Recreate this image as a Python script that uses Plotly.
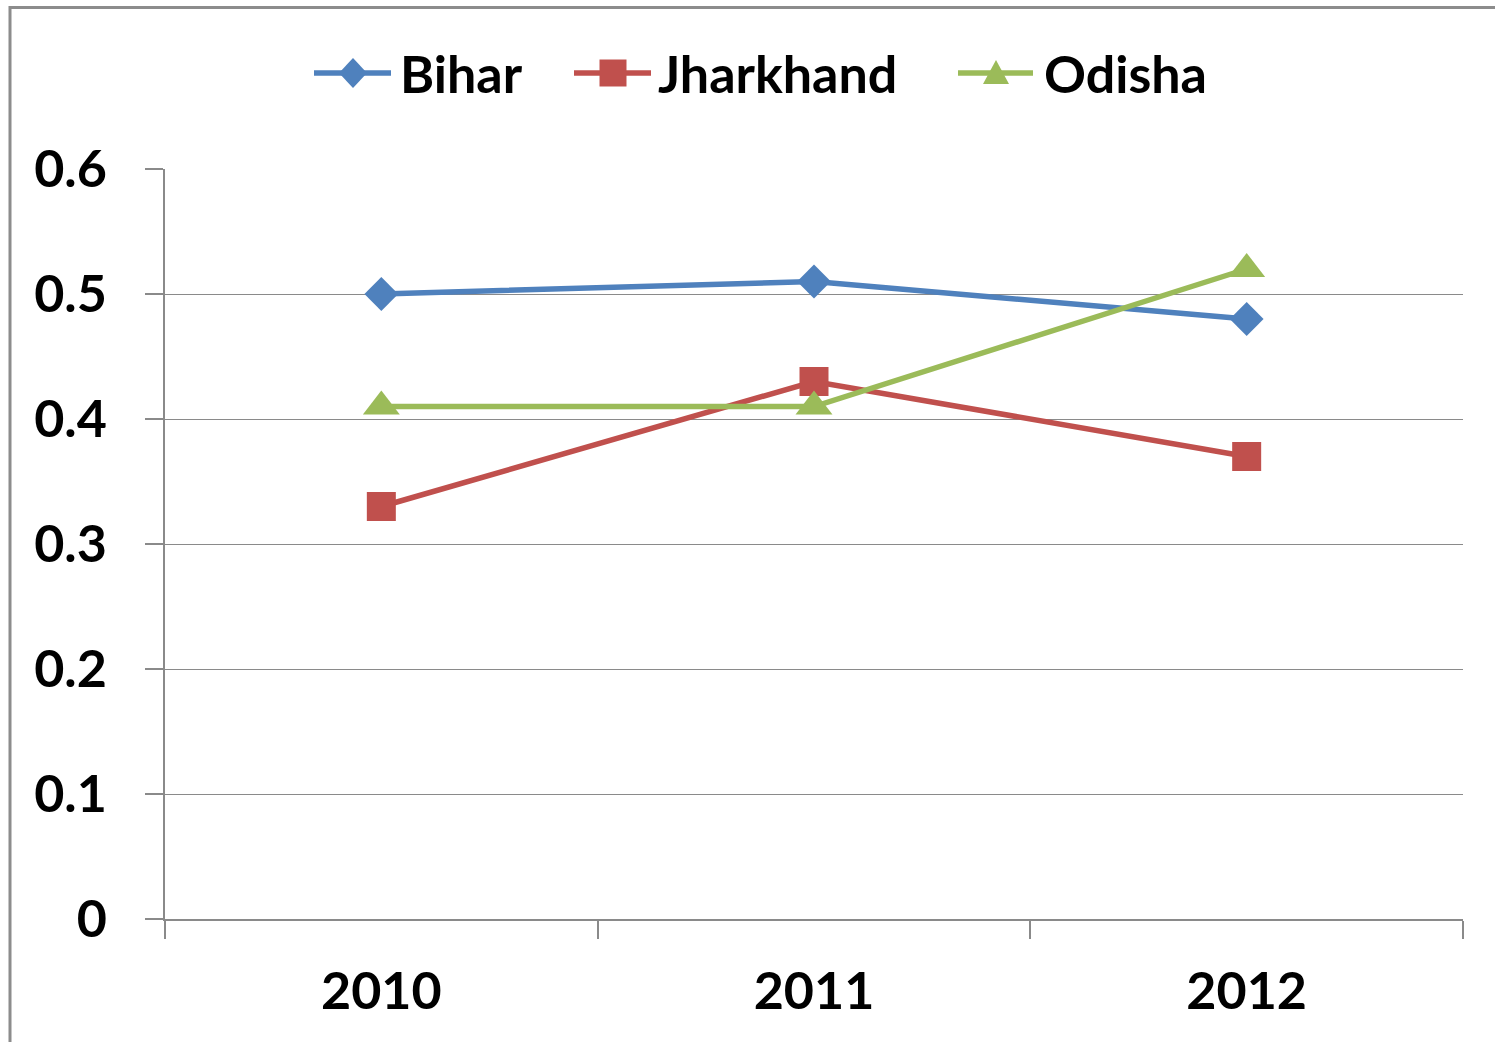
import plotly.graph_objects as go

years = ["2010", "2011", "2012"]
bihar = [0.50, 0.51, 0.48]
jharkhand = [0.33, 0.43, 0.37]
odisha = [0.41, 0.41, 0.52]
y_ticks = [0, 0.1, 0.2, 0.3, 0.4, 0.5, 0.6]
y_tick_labels = ["0", "0.1", "0.2", "0.3", "0.4", "0.5", "0.6"]
series_names = ["Bihar", "Jharkhand", "Odisha"]
series_colors = ["#4F81BD", "#C0504D", "#9BBB59"]

FONT = "Lato"
FS = 52
GRID = "#8a8a8a"

W, H = 1495, 1042
L, R, T, B = 165, 32, 169, 123
PW, PH = W - L - R, H - T - B


def px_x(px):
    return (px - L) / PW


def px_y(py):
    return (H - B - py) / PH


fig = go.Figure()
fig.add_trace(go.Scatter(x=years, y=bihar, name=series_names[0], mode="lines+markers",
                         line=dict(color=series_colors[0], width=5.5),
                         marker=dict(symbol="diamond", size=26, color=series_colors[0])))
fig.add_trace(go.Scatter(x=years, y=jharkhand, name=series_names[1], mode="lines+markers",
                         line=dict(color=series_colors[1], width=5.5),
                         marker=dict(symbol="square", size=29, color=series_colors[1])))
fig.add_trace(go.Scatter(x=years, y=odisha, name=series_names[2], mode="lines+markers",
                         line=dict(color=series_colors[2], width=5.5),
                         marker=dict(symbol="triangle-up", size=32, color=series_colors[2])))

# custom legend (Excel-style long line samples with big markers)
legend_y = 73
legend_items = [
    # line start, line end, marker center, text left
    (314, 391, 353, 398),
    (574, 651, 613, 656),
    (958, 1033, 996, 1042),
]
marker_paths = [
    "M -14 0 L 0 15 L 14 0 L 0 -15 Z",
    "M -13.5 -13.5 L 13.5 -13.5 L 13.5 13.5 L -13.5 13.5 Z",
    "M -13 -11 L 13 -11 L 0 13 Z",
]
shapes = [dict(type="rect", xref="paper", yref="paper",
               x0=px_x(10), x1=px_x(1510), y0=px_y(1060), y1=px_y(7.5),
               line=dict(color="#8c8c8c", width=3), layer="below")]
annotations = []
for (lx0, lx1, mx, tx), name, col, path in zip(legend_items, series_names, series_colors, marker_paths):
    shapes.append(dict(type="line", xref="paper", yref="paper",
                       x0=px_x(lx0), x1=px_x(lx1), y0=px_y(legend_y), y1=px_y(legend_y),
                       line=dict(color=col, width=5.5)))
    shapes.append(dict(type="path", xref="paper", yref="paper",
                       xsizemode="pixel", ysizemode="pixel",
                       xanchor=px_x(mx), yanchor=px_y(legend_y),
                       path=path, fillcolor=col, line=dict(width=0)))
    annotations.append(dict(xref="paper", yref="paper", x=px_x(tx), y=px_y(legend_y),
                            xanchor="left", yanchor="middle", showarrow=False,
                            text="<b>%s</b>" % name,
                            font=dict(family=FONT, size=FS, color="black")))

fig.update_layout(
    width=W, height=H,
    margin=dict(l=L, r=R, t=T, b=B),
    paper_bgcolor="white", plot_bgcolor="white",
    font=dict(family=FONT, size=FS, color="black", weight="bold"),
    showlegend=False,
    xaxis=dict(type="category", range=[-0.5, 2.5], tickson="boundaries",
               ticks="outside", ticklen=18, tickcolor=GRID, tickwidth=1.5,
               showline=True, linecolor=GRID, linewidth=1.5, showgrid=False,
               ticklabelstandoff=26,
               tickfont=dict(family=FONT, size=FS, color="black", weight="bold"),
               fixedrange=True),
    yaxis=dict(range=[0, 0.6], tickvals=y_ticks, ticktext=y_tick_labels,
               ticks="outside", ticklen=18, tickcolor=GRID, tickwidth=1.5,
               showline=True, linecolor=GRID, linewidth=1.5,
               showgrid=True, gridcolor=GRID, gridwidth=1.2, zeroline=False,
               ticklabelstandoff=28,
               tickfont=dict(family=FONT, size=FS, color="black", weight="bold"),
               fixedrange=True),
    shapes=shapes,
    annotations=annotations,
)

fig.write_html("out.html", post_script="document.body.style.margin='0';",
               config={"displayModeBar": False})
